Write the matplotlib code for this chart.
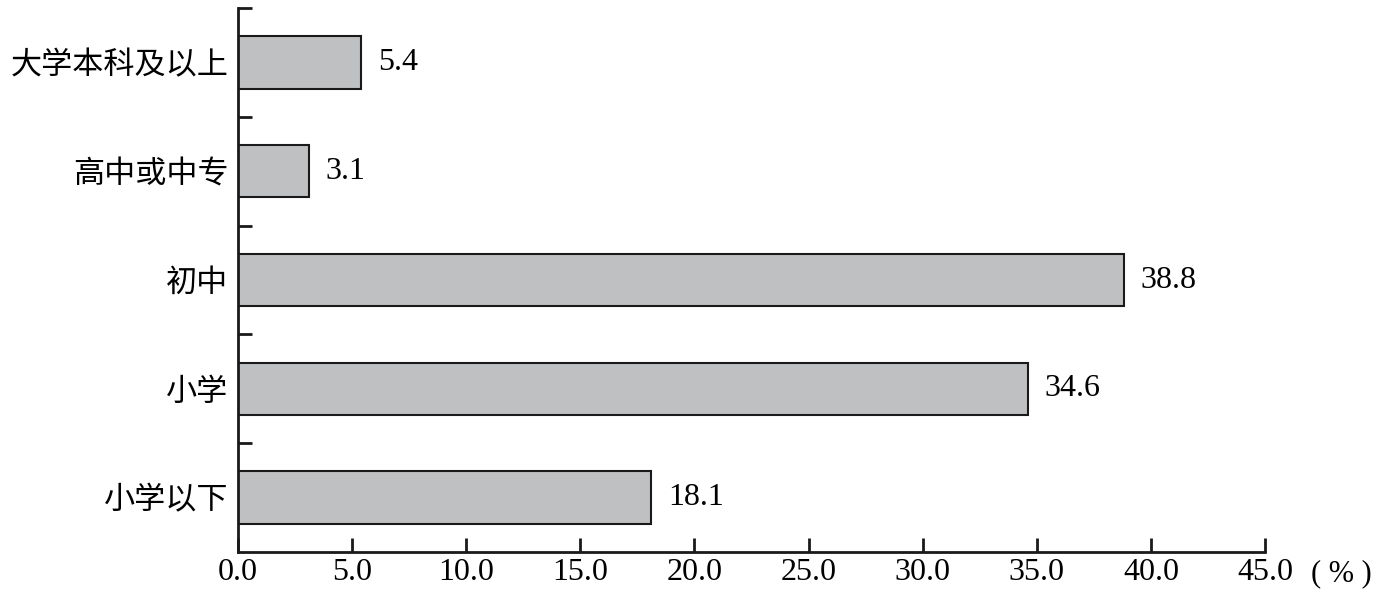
import matplotlib
matplotlib.use("Agg")
import matplotlib.pyplot as plt
import numpy as np

# data, bottom to top
categories = ["小学以下", "小学", "初中", "高中或中专", "大学本科及以上"]
values = [18.1, 34.6, 38.8, 3.1, 5.4]
xticks = [0, 5, 10, 15, 20, 25, 30, 35, 40, 45]

num_font = "Liberation Serif"
cjk_font = ["Noto Sans CJK SC", "DejaVu Sans"]

fig = plt.figure(figsize=(13.8, 5.94), dpi=100)
ax = fig.add_axes([0.1725, 0.0707, 0.7442, 0.9158])

y = np.arange(len(categories))
ax.barh(y, values, height=0.48, color="#bfc0c2", edgecolor="#1a1a1a", linewidth=1.5)

# value labels at bar ends
for yi, v in zip(y, values):
    ax.annotate(f"{v:.1f}", xy=(v, yi), xytext=(12, 0), textcoords="offset points",
                ha="left", va="center", fontsize=23, family=num_font)

ax.set_xlim(0, 45)
ax.set_ylim(-0.5, len(categories) - 0.5)

ax.set_xticks(xticks)
ax.set_xticklabels([f"{t:.1f}" for t in xticks], family=num_font, fontsize=23)

# category labels sit between the boundary ticks
ax.set_yticks(y)
ax.set_yticklabels(categories, family=cjk_font, fontsize=22.4)
ax.tick_params(axis="y", which="major", length=0, pad=7)
ax.set_yticks(np.arange(len(categories)) + 0.5, minor=True)
ax.tick_params(axis="y", which="minor", direction="in", length=10, width=2, color="#1a1a1a")
ax.tick_params(axis="x", direction="in", length=10, width=2, color="#1a1a1a", pad=4)

for side in ["top", "right"]:
    ax.spines[side].set_visible(False)
for side in ["left", "bottom"]:
    ax.spines[side].set_linewidth(2)
    ax.spines[side].set_color("#1a1a1a")

ax.annotate("( % )", xy=(1, 0), xycoords="axes fraction", xytext=(33, -15.5),
            textcoords="offset points", ha="left", va="center",
            fontsize=22, family=num_font)

fig.savefig("out.png", dpi=100)
